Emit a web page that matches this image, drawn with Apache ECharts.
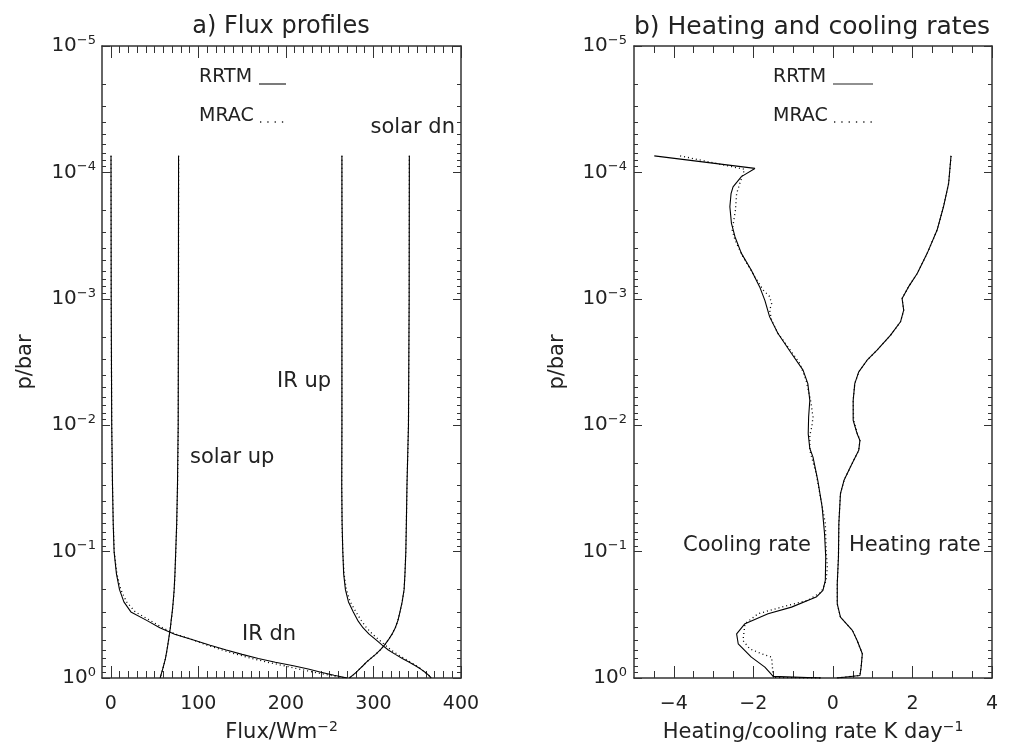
<!DOCTYPE html>
<html>
<head>
<meta charset="utf-8">
<title>Flux profiles and heating rates</title>
<script src="https://cdn.jsdelivr.net/npm/echarts@6/dist/echarts.min.js"></script>
<style>
html, body { margin: 0; padding: 0; background: #fff; }
#main { width: 1019px; height: 751px; }
</style>
</head>
<body>
<div id="main"></div>
<script>
// ---- panel a: flux profiles (W m-2) on pressure levels (bar)
var pFlux = [7.4e-5, 1e-4, 1e-3, 1e-2, 0.03, 0.06, 0.1, 0.15, 0.2, 0.25, 0.3, 0.35, 0.4, 0.45, 0.5, 0.55, 0.6, 0.65, 0.7, 0.75, 0.8, 0.85, 0.9, 0.95, 1.0];
var irDnRRTM = [0.3, 0.3, 0.5, 1.1, 2.0, 2.8, 3.8, 6.5, 10.0, 15.0, 23.0, 41.0, 56.0, 73.0, 94.5, 113.5, 132.0, 150.0, 168.5, 188.0, 208.5, 225.5, 240.0, 255.0, 270.0];
var irDnMRAC = [0.3, 0.3, 0.5, 1.1, 2.0, 2.9, 4.0, 7.0, 11.5, 18.0, 28.0, 45.0, 59.0, 74.0, 94.0, 110.0, 127.0, 144.0, 161.0, 179.0, 198.0, 215.0, 232.0, 250.0, 268.0];
var solarUpRRTM = [77.4, 77.4, 77.3, 77.0, 76.2, 75.3, 74.2, 73.3, 72.4, 71.3, 70.2, 69.0, 68.1, 67.0, 66.0, 65.1, 64.2, 63.3, 62.5, 61.4, 60.3, 59.3, 58.3, 57.3, 56.4];
var solarUpMRAC = [77.5, 77.5, 77.4, 77.1, 76.3, 75.4, 74.3, 73.4, 72.5, 71.4, 70.3, 69.1, 68.2, 67.1, 66.1, 65.2, 64.3, 63.4, 62.6, 61.5, 60.4, 59.4, 58.4, 57.4, 56.5];
var irUpRRTM = [264.0, 264.0, 264.0, 264.0, 263.8, 264.2, 265.0, 266.0, 268.0, 271.5, 277.0, 282.0, 288.0, 295.0, 303.0, 310.0, 317.0, 325.0, 333.0, 341.0, 348.0, 354.0, 359.0, 363.0, 366.0];
var irUpMRAC = [264.0, 264.0, 264.0, 264.0, 263.8, 264.2, 265.0, 266.5, 269.0, 273.5, 280.0, 286.0, 292.0, 299.0, 306.5, 313.5, 320.0, 327.5, 335.0, 342.5, 349.0, 354.5, 359.0, 363.0, 366.0];
var solarDnRRTM = [341.0, 341.0, 340.8, 340.0, 338.3, 337.6, 337.0, 336.0, 335.0, 332.8, 330.3, 328.0, 325.0, 321.2, 317.0, 312.6, 307.8, 302.5, 297.0, 292.0, 288.0, 284.0, 280.5, 276.5, 272.5];
var solarDnMRAC = [341.0, 341.0, 340.8, 340.0, 338.3, 337.6, 337.0, 336.0, 335.0, 332.8, 330.3, 328.0, 325.0, 321.2, 317.0, 312.6, 307.8, 302.5, 297.0, 292.0, 288.0, 284.0, 280.5, 276.5, 272.5];

// ---- panel b: heating / cooling rates (K day-1)
var pCool = [7.4e-5, 9.3e-5, 1.08e-4, 1.3e-4, 1.47e-4, 1.87e-4, 2.53e-4, 3.24e-4, 4.37e-4, 5.94e-4, 8.05e-4, 1.03e-3, 1.39e-3, 1.88e-3, 2.71e-3, 3.67e-3, 4.69e-3, 6.36e-3, 8.61e-3, 0.0117, 0.0153, 0.0179, 0.0273, 0.0445, 0.0721, 0.11, 0.169, 0.203, 0.229, 0.275, 0.31, 0.372, 0.447, 0.536, 0.684, 0.82, 0.97, 1.0];
var coolRRTM = [-4.49, -1.96, -2.30, -2.51, -2.56, -2.59, -2.55, -2.46, -2.30, -2.05, -1.84, -1.71, -1.59, -1.38, -1.04, -0.75, -0.63, -0.58, -0.61, -0.62, -0.58, -0.50, -0.38, -0.27, -0.21, -0.18, -0.19, -0.25, -0.42, -1.04, -1.63, -2.21, -2.42, -2.38, -2.05, -1.71, -1.50, -0.30];
var pCoolMRAC = [7.4e-5, 9.46e-5, 1.22e-4, 1.47e-4, 1.99e-4, 2.86e-4, 3.44e-4, 4.66e-4, 6.72e-4, 8.55e-4, 9.6e-4, 1.09e-3, 1.23e-3, 1.48e-3, 1.88e-3, 2.4e-3, 3.25e-3, 4.46e-3, 6.36e-3, 8.61e-3, 0.0103, 0.012, 0.0158, 0.0242, 0.06, 0.0977, 0.133, 0.169, 0.209, 0.243, 0.275, 0.31, 0.372, 0.505, 0.588, 0.643, 0.684, 0.99, 1.0];
var coolMRAC = [-3.84, -2.22, -2.34, -2.42, -2.45, -2.53, -2.46, -2.26, -1.96, -1.75, -1.59, -1.54, -1.59, -1.54, -1.38, -1.13, -0.83, -0.67, -0.56, -0.50, -0.53, -0.58, -0.58, -0.42, -0.19, -0.17, -0.14, -0.17, -0.29, -0.63, -1.29, -1.88, -2.21, -2.26, -2.09, -1.79, -1.54, -1.50, -0.30];
var pHeat = [7.4e-5, 1.22e-4, 1.87e-4, 2.86e-4, 4.37e-4, 6.3e-4, 8.05e-4, 9.96e-4, 1.23e-3, 1.52e-3, 1.94e-3, 2.55e-3, 3.06e-3, 3.79e-3, 4.69e-3, 6.36e-3, 9.14e-3, 0.0117, 0.0132, 0.0158, 0.0214, 0.0273, 0.0348, 0.06, 0.11, 0.179, 0.259, 0.33, 0.42, 0.505, 0.643, 0.82, 0.955, 1.0];
var heatRRTM = [2.97, 2.91, 2.78, 2.62, 2.37, 2.12, 1.90, 1.74, 1.78, 1.70, 1.45, 1.11, 0.86, 0.65, 0.55, 0.51, 0.51, 0.61, 0.68, 0.65, 0.44, 0.28, 0.19, 0.15, 0.14, 0.11, 0.11, 0.19, 0.49, 0.61, 0.74, 0.71, 0.68, 0.10];
var heatMRAC = [2.97, 2.91, 2.78, 2.62, 2.37, 2.12, 1.90, 1.74, 1.78, 1.70, 1.45, 1.11, 0.86, 0.65, 0.55, 0.51, 0.52, 0.62, 0.68, 0.65, 0.44, 0.28, 0.19, 0.15, 0.14, 0.11, 0.11, 0.19, 0.49, 0.61, 0.74, 0.71, 0.68, 0.10];

// ---- ticks
var pMajor = [1e-5, 1e-4, 1e-3, 1e-2, 1e-1, 1];
var pMinor = [];
for (var e = -5; e < 0; e++) {
  for (var m = 2; m <= 9; m++) pMinor.push(m * Math.pow(10, e));
}
var fluxMajor = [0, 100, 200, 300, 400];
var fluxMinor = [10, 20, 30, 40, 50, 60, 70, 80, 90, 110, 120, 130, 140, 150, 160, 170, 180, 190,
  210, 220, 230, 240, 250, 260, 270, 280, 290, 310, 320, 330, 340, 350, 360, 370, 380, 390];
var rateMajor = [-4, -2, 0, 2, 4];
var rateMinor = [-4.5, -3.5, -3, -2.5, -1.5, -1, -0.5, 0.5, 1, 1.5, 2.5, 3, 3.5];

var FONT = "DejaVu Sans";
var TXT = "#222";
var AX = "#333";

function pairs(xs, ps) {
  return ps.map(function (p, i) { return [xs[i], p]; });
}

function supLabel(v) {
  var ex = Math.round(Math.log10(v));
  return "{b|10}{s|" + String(ex).replace("-", "\u2212") + "}";
}

var richSup = {
  b: { fontFamily: FONT, fontSize: 20, color: TXT, lineHeight: 24 },
  s: { fontFamily: FONT, fontSize: 13, color: TXT, lineHeight: 13, verticalAlign: "top" }
};
var richName = {
  a: { fontFamily: FONT, fontSize: 21, color: TXT, lineHeight: 26 },
  s: { fontFamily: FONT, fontSize: 14, color: TXT, lineHeight: 14, verticalAlign: "top" }
};

// builds the four x axes (bottom/top, major/minor) of one panel
function xAxes(grid, min, max, major, minor, name) {
  var line = { show: true, onZero: false, lineStyle: { color: AX, width: 1.5 } };
  var base = { type: "value", gridIndex: grid, min: min, max: max, splitLine: { show: false } };
  return [
    Object.assign({}, base, {
      position: "bottom", axisLine: line,
      axisTick: { inside: true, length: 12, customValues: major, lineStyle: { color: AX } },
      axisLabel: { customValues: major, fontFamily: FONT, fontSize: 19, color: TXT, margin: 17,
        formatter: function (v) { return String(v).replace("-", "\u2212"); } },
      name: name, nameLocation: "middle", nameGap: 42,
      nameTextStyle: { rich: richName }
    }),
    Object.assign({}, base, {
      position: "bottom", axisLine: { show: false, onZero: false },
      axisTick: { inside: true, length: 7, customValues: minor, lineStyle: { color: AX } },
      axisLabel: { show: false }
    }),
    Object.assign({}, base, {
      position: "top", axisLine: line,
      axisTick: { inside: true, length: 12, customValues: major, lineStyle: { color: AX } },
      axisLabel: { show: false }
    }),
    Object.assign({}, base, {
      position: "top", axisLine: { show: false, onZero: false },
      axisTick: { inside: true, length: 7, customValues: minor, lineStyle: { color: AX } },
      axisLabel: { show: false }
    })
  ];
}

function yAxes(grid, labelMargin) {
  var line = { show: true, onZero: false, lineStyle: { color: AX, width: 1.5 } };
  var base = { type: "log", logBase: 10, gridIndex: grid, min: 1e-5, max: 1, inverse: true, splitLine: { show: false } };
  return [
    Object.assign({}, base, {
      position: "left", axisLine: line,
      axisTick: { inside: true, length: 8, customValues: pMajor, lineStyle: { color: AX } },
      axisLabel: { customValues: pMajor, margin: labelMargin, fontSize: 20, formatter: supLabel, rich: richSup },
      name: "p/bar", nameLocation: "middle", nameGap: 66, nameRotate: 90,
      nameTextStyle: { fontFamily: FONT, fontSize: 21, color: TXT }
    }),
    Object.assign({}, base, {
      position: "left", axisLine: { show: false, onZero: false },
      axisTick: { inside: true, length: 4, customValues: pMinor, lineStyle: { color: AX } },
      axisLabel: { show: false }
    }),
    Object.assign({}, base, {
      position: "right", axisLine: line,
      axisTick: { inside: true, length: 8, customValues: pMajor, lineStyle: { color: AX } },
      axisLabel: { show: false }
    }),
    Object.assign({}, base, {
      position: "right", axisLine: { show: false, onZero: false },
      axisTick: { inside: true, length: 4, customValues: pMinor, lineStyle: { color: AX } },
      axisLabel: { show: false }
    })
  ];
}

function curve(x, y, xs, ps, dotted) {
  return {
    type: "line", xAxisIndex: x, yAxisIndex: y, data: pairs(xs, ps),
    showSymbol: false, silent: true, animation: false, clip: true,
    lineStyle: { color: "#000", width: dotted ? 1.3 : 1.1, type: dotted ? [1, 3] : "solid" }
  };
}

function txt(x, y, s, size, align) {
  return { type: "text", x: x, y: y, silent: true,
    style: { text: s, fontFamily: FONT, fontSize: size, fill: TXT, align: align || "left", verticalAlign: "middle" } };
}
function key(x1, x2, y, dotted) {
  return { type: "line", silent: true, shape: { x1: x1, y1: y, x2: x2, y2: y },
    style: { stroke: "#222", lineWidth: dotted ? 1.3 : 1.2, lineDash: dotted ? [1.3, 6] : null } };
}

var option = {
  backgroundColor: "#fff",
  animation: false,
  grid: [
    { left: 102, top: 46, width: 359, height: 632, outerBoundsMode: "none" },
    { left: 634, top: 46, width: 358, height: 632, outerBoundsMode: "none" }
  ],
  xAxis: xAxes(0, -10, 400, fluxMajor, fluxMinor, "{a|Flux/Wm}{s|\u22122}")
    .concat(xAxes(1, -5, 4, rateMajor, rateMinor, "{a|Heating/cooling rate K day}{s|\u22121}")),
  yAxis: yAxes(0, 6).concat(yAxes(1, 7)),
  series: [
    curve(0, 0, irDnRRTM, pFlux, false),
    curve(0, 0, irDnMRAC, pFlux, true),
    curve(0, 0, solarUpRRTM, pFlux, false),
    curve(0, 0, solarUpMRAC, pFlux, true),
    curve(0, 0, irUpRRTM, pFlux, false),
    curve(0, 0, irUpMRAC, pFlux, true),
    curve(0, 0, solarDnRRTM, pFlux, false),
    curve(0, 0, solarDnMRAC, pFlux, true),
    curve(4, 4, coolRRTM, pCool, false),
    curve(4, 4, coolMRAC, pCoolMRAC, true),
    curve(4, 4, heatRRTM, pHeat, false),
    curve(4, 4, heatMRAC, pHeat, true)
  ],
  graphic: [
    txt(281, 27, "a) Flux profiles", 24, "center"),
    txt(812, 27, "b) Heating and cooling rates", 25, "center"),
    // panel a annotations
    txt(199, 77, "RRTM", 19), key(259, 286, 84, false),
    txt(199, 116, "MRAC", 19), key(260, 286, 122, true),
    txt(455, 128, "solar dn", 21, "right"),
    txt(277, 382, "IR up", 21),
    txt(190, 458, "solar up", 21),
    txt(242, 635, "IR dn", 21),
    // panel b annotations
    txt(773, 77, "RRTM", 19), key(833, 873, 84, false),
    txt(773, 116, "MRAC", 19), key(834, 872, 122, true),
    txt(683, 546, "Cooling rate", 21),
    txt(849, 546, "Heating rate", 21)
  ]
};

var chart = echarts.init(document.getElementById("main"));
chart.setOption(option);
</script>
</body>
</html>
